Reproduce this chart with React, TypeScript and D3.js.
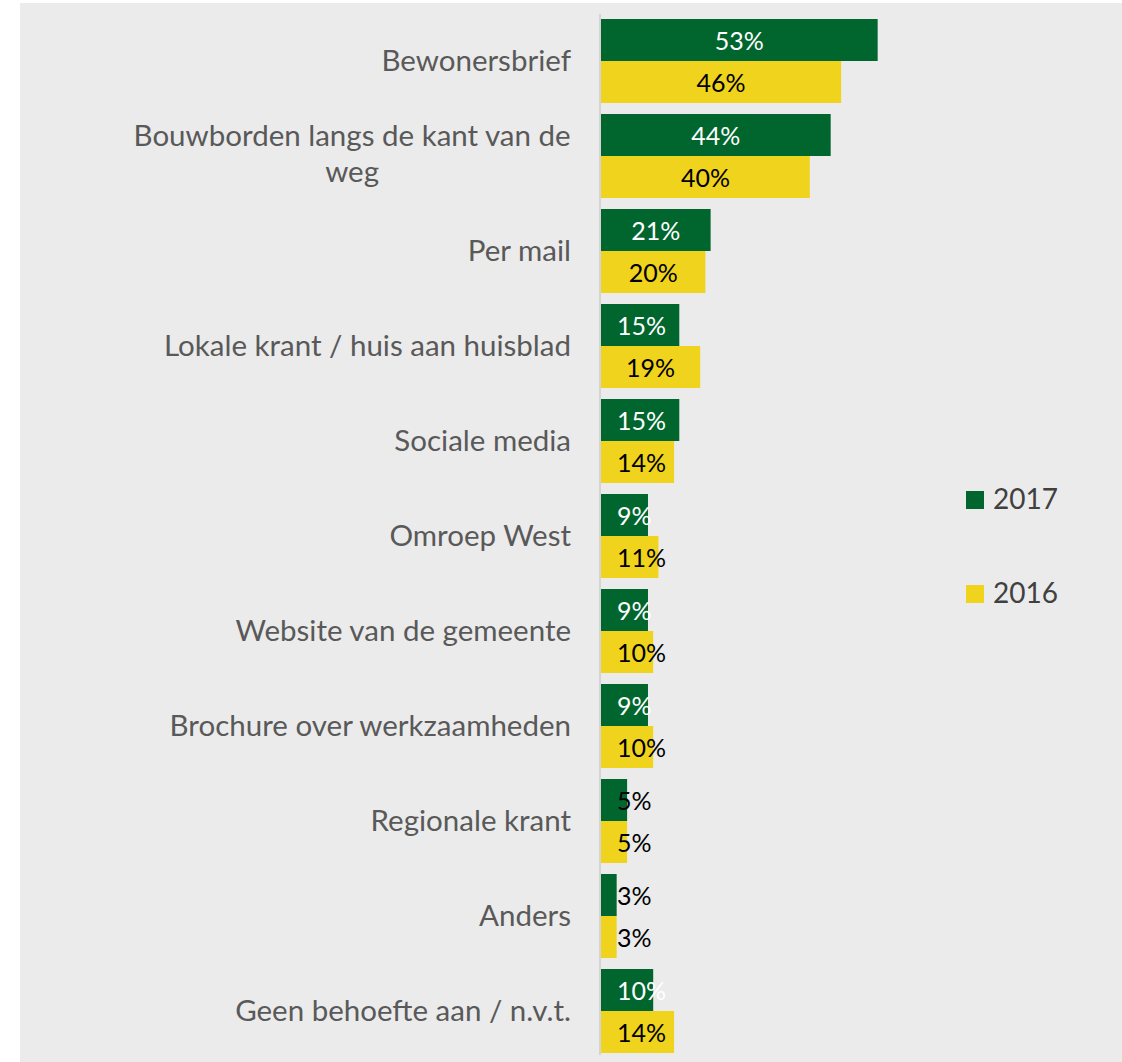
import React from "react";
import * as d3 from "d3";

const categories = [
  "Bewonersbrief",
  "Bouwborden langs de kant van de weg",
  "Per mail",
  "Lokale krant / huis aan huisblad",
  "Sociale media",
  "Omroep West",
  "Website van de gemeente",
  "Brochure over werkzaamheden",
  "Regionale krant",
  "Anders",
  "Geen behoefte aan / n.v.t.",
];
const values2017 = [53, 44, 21, 15, 15, 9, 9, 9, 5, 3, 10];
const values2016 = [46, 40, 20, 19, 14, 11, 10, 10, 5, 3, 14];
const seriesNames = ["2017", "2016"];

const W = 1122;
const H = 1062;
const GREEN = "#00662e";
const YELLOW = "#efd31d";
const FONT = "Lato, 'Open Sans', sans-serif";
const CAT_SIZE = 29.5;
const LBL_SIZE = 25;

let ctx: CanvasRenderingContext2D | null = null;
function measure(text: string, size: number): number {
  if (!ctx) ctx = document.createElement("canvas").getContext("2d");
  if (!ctx) return text.length * size * 0.55;
  ctx.font = `${size}px Lato`;
  return ctx.measureText(text).width;
}

function wrap(text: string, maxW: number, size: number): string[] {
  const words = text.split(" ");
  const lines: string[] = [];
  let cur = "";
  for (const w of words) {
    const t = cur ? cur + " " + w : w;
    if (measure(t, size) > maxW && cur) {
      lines.push(cur);
      cur = w;
    } else cur = t;
  }
  if (cur) lines.push(cur);
  return lines;
}

export default function App() {
  const x = d3.scaleLinear().domain([0, 60]).range([601, 601 + 60 * 5.22]);
  const y = d3
    .scaleBand<string>()
    .domain(categories)
    .range([13.5, 1058.5])
    .paddingInner(0.116)
    .paddingOuter(0.058);
  const bh = y.bandwidth() / 2;
  const labelRight = 571;
  const lh = 36.6;

  const series = [values2017, values2016];
  const colors = [GREEN, YELLOW];

  return (
    <div style={{ position: "absolute", left: 0, top: 0 }}>
      <svg width={W} height={H} style={{ display: "block" }}>
        <rect x={20} y={3} width={W - 20} height={H - 3} fill="#ebebeb" />
        {categories.map((c, i) => {
          const y0 = y(c) as number;
          return (
            <g key={c}>
              {series.map((vals, s) => {
                const v = vals[i];
                const bx = x(0);
                const bw = x(v) - x(0);
                const by = y0 + s * bh;
                const text = `${v}%`;
                const tw = measure(text, LBL_SIZE);
                const cx = Math.max(bx + bw / 2, bx + 16 + tw / 2);
                const fill = s === 0 && v >= 6 ? "#ffffff" : "#000000";
                return (
                  <g key={s}>
                    <rect x={bx} y={by} width={bw} height={bh} fill={colors[s]} />
                    <text
                      x={cx}
                      y={by + bh / 2 + 10}
                      textAnchor="middle"
                      fontFamily={FONT}
                      fontSize={LBL_SIZE}
                      fill={fill}
                    >
                      {text}
                    </text>
                  </g>
                );
              })}
            </g>
          );
        })}
        <line x1={600} x2={600} y1={14} y2={1055} stroke="#d4d4d4" strokeWidth={2} />
        {categories.map((c) => {
          const lines = wrap(c, 460, CAT_SIZE);
          const maxW = Math.max(...lines.map((l) => measure(l, CAT_SIZE)));
          const cy = (y(c) as number) + y.bandwidth() / 2;
          const multi = lines.length > 1;
          const tx = multi ? labelRight - maxW / 2 : labelRight;
          const base = cy + 10 - ((lines.length - 1) * lh) / 2 - (multi ? 2 : 0);
          return (
            <text
              key={c}
              textAnchor={multi ? "middle" : "end"}
              fontFamily={FONT}
              fontSize={CAT_SIZE}
              fill="#595959"
            >
              {lines.map((l, k) => (
                <tspan key={k} x={tx} y={base + k * lh}>
                  {l}
                </tspan>
              ))}
            </text>
          );
        })}
        {seriesNames.map((n, s) => (
          <g key={n}>
            <rect x={966} y={491 + s * 94} width={18} height={18} fill={colors[s]} />
            <text x={993} y={509 + s * 94} fontFamily={FONT} fontSize={28} fill="#404040">
              {n}
            </text>
          </g>
        ))}
      </svg>
    </div>
  );
}
